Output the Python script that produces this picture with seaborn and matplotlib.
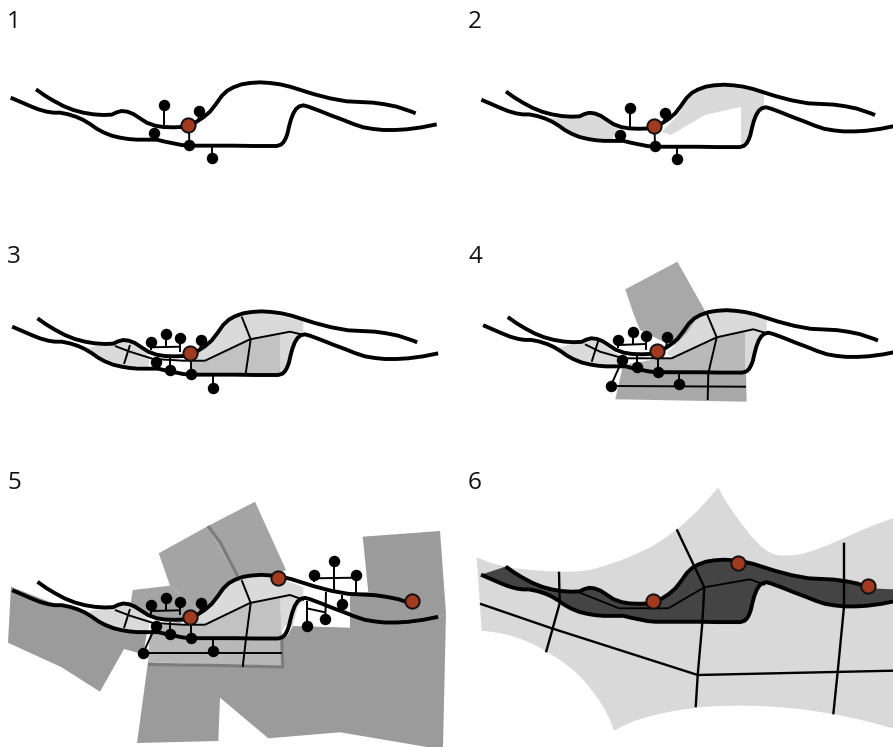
import matplotlib
matplotlib.use('Agg')
import matplotlib.pyplot as plt
import seaborn as sns

sns.set_theme(style='white')
plt.rcParams['font.family'] = ['Open Sans', 'DejaVu Sans']

lower_x = [32, 60, 90, 115, 140, 160, 180, 205, 230, 250, 270, 290, 310, 335, 360, 385, 410, 440, 470, 495, 520, 545, 568, 600, 640, 700, 760, 810, 830, 843, 851, 857, 862, 867, 873, 880, 888, 898, 910, 925, 960, 995, 1030, 1060, 1090, 1120, 1150, 1185, 1220, 1265, 1310]
lower_y = [113, 125, 138, 148, 155, 158, 158, 163, 171, 180, 192, 206, 217, 227, 233, 237, 239, 239, 239, 245, 250, 255, 257, 257, 257, 257, 258, 258, 258, 254, 246, 235, 222, 200, 178, 160, 147, 139, 136, 140, 153, 167, 180, 192, 202, 207, 210, 210, 208, 202, 193]
upper_x = [108, 135, 160, 190, 220, 250, 280, 310, 335, 350, 365, 382, 400, 420, 440, 465, 490, 520, 545, 570, 590, 610, 630, 648, 665, 682, 700, 725, 750, 780, 810, 840, 870, 905, 940, 990, 1040, 1080, 1120, 1155, 1190, 1220, 1235, 1247]
upper_y = [88, 107, 122, 138, 150, 158, 163, 165, 164, 157, 153, 155, 162, 175, 188, 197, 201, 202, 201, 195, 185, 172, 155, 132, 108, 92, 82, 73, 69, 67, 69, 73, 80, 91, 102, 115, 124, 126, 128, 133, 140, 150, 155, 160]
lower_x = [v / 3 for v in lower_x]
lower_y = [v / 3 + 60 for v in lower_y]
upper_x = [v / 3 for v in upper_x]
upper_y = [v / 3 + 60 for v in upper_y]

# panel 1 dots and stems
dots1_x = [164.3, 199.3, 153.7, 189.3, 211.7]
dots1_y = [105.3, 110.7, 132.7, 145.3, 158.3]
stems1 = [[(164.3, 105.3), (164.3, 125)], [(199.3, 110.7), (198.3, 120)], [(189.3, 145.3), (189, 127)], [(211.7, 158.3), (211.7, 146)]]
red1 = [(188.3, 124.7)]

# panel 2 light areas
light2_a_x = [550, 573.3, 585, 596.7, 606.7, 619.3, 615, 611.7, 593.3, 573.3, 560]
light2_a_y = [118.3, 117.3, 114.3, 115, 121, 128.3, 135, 139.3, 138.3, 133.3, 125]
light2_b_x = [661.7, 676.7, 688.3, 703.3, 723.3, 764, 764, 756.7, 751.7, 748.3, 743.3, 741, 741, 705, 670.7]
light2_b_y = [131.7, 116.7, 98.3, 88.3, 86, 92.3, 106.7, 111.7, 128.3, 141.7, 147.3, 147.3, 106.7, 115, 135]
dots2_x = [630.3, 665, 620.3, 655, 676.7]
dots2_y = [107.7, 112.7, 135, 146.3, 159]
stems2 = [[(630.3, 107.7), (630.3, 128)], [(665, 112.7), (664, 121)], [(655, 146.3), (654.5, 128)], [(676.7, 159), (676.7, 147)]]
red2 = [(654, 126)]

# panel 3, areas and network
light3_a_x = [86.7, 115, 128.3, 140, 150, 148.3, 123.3, 100]
light3_a_y = [348.3, 341.7, 341.7, 348.3, 356.7, 366.7, 366, 356.7]
light3_b_x = [196.7, 216.7, 230, 243.3, 266.7, 303.3, 303.3, 296.7, 290, 285, 280.7, 280, 250, 205, 196.7]
light3_b_y = [353.3, 336.7, 320, 313.3, 312.7, 321, 333.3, 340, 360, 373.3, 375.3, 333.3, 339.3, 360.7, 360.7]
mid3_x = [191.7, 205, 250, 280, 280.7, 191.7]
mid3_y = [360.7, 360.7, 339.3, 333.3, 375.3, 373.3]
net3 = [[(115, 346), (130, 351.7), (153.3, 359), (183.3, 360.7), (205, 360.7), (250, 339.3), (290, 331.7), (304, 335)],
        [(130, 345), (124, 364)],
        [(241.7, 316.7), (250.7, 339.3), (245.7, 373.3)]]
dots3_x = [151, 166, 180, 201.3, 155.7, 170, 191, 213.3]
dots3_y = [342.3, 334.3, 338, 339.7, 362.3, 370, 374.3, 387.7]
stems3 = [[(151, 347.3), (180, 346.7)], [(151, 342.3), (151, 350)], [(166, 334.3), (166, 346.7)], [(180, 338), (180, 351.7)],
          [(170, 370), (170, 358.3)], [(201.3, 339.7), (200, 350)], [(191, 374.3), (191, 360)], [(213.3, 387.7), (213.3, 375)]]
red3 = [(190.3, 353.3)]

# panel 4, areas and network
dark4_x = [625.3, 677.3, 708, 692, 675, 663.3, 640, 633.3]
dark4_y = [289.3, 261.7, 316, 330, 345, 341.7, 330, 313.3]
base4_x = [622.3, 615.3, 746.7, 745, 716.7, 673.3, 660, 660]
base4_y = [368.3, 399.3, 401.7, 331.7, 337.3, 358.3, 358.3, 366.7]
light4_a_x = [585, 598.3, 606.7, 620, 618.3, 593.3, 570, 556.7]
light4_a_y = [340, 340.7, 346.7, 356, 365, 365, 358.3, 348.3]
light4_b_x = [666.7, 686.7, 696.7, 708.3, 733.3, 766.7, 766.7, 758.3, 753.3, 748.3, 745, 745, 716.7, 673.3]
light4_b_y = [353.3, 333.3, 318.3, 311.7, 310, 318.3, 331.7, 338.3, 358.3, 370, 371.7, 331.7, 337.3, 358.3]
mid4_x = [660, 673.3, 716.7, 745, 745, 633.3, 623.3]
mid4_y = [358.3, 358.3, 337.3, 331.7, 372.7, 368.3, 365]
net4 = [[(585, 344.3), (600, 351.7), (623.3, 358.3), (671.7, 358.3), (716.7, 337.3), (753.3, 329.3), (766.7, 333.3)],
        [(598.3, 340.7), (591.7, 361.7)],
        [(706.7, 313.3), (716.7, 337.3), (708.3, 373.3), (707.7, 400)],
        [(611, 386), (746, 386.7)]]
dots4_x = [617.7, 632.7, 646.3, 667.3, 622.3, 636.7, 657.7, 610.7, 679]
dots4_y = [340, 332.3, 336, 337.3, 360, 367, 372, 386, 384.3]
stems4 = [[(617.7, 345), (646, 344)], [(617.7, 340), (617.7, 348.3)], [(632.7, 332.3), (632.7, 345)], [(646.3, 336), (646.3, 350)],
          [(636.7, 367), (636.7, 356)], [(667.3, 337.3), (666, 348.3)], [(657.7, 372), (657.7, 358)], [(679, 384.3), (679, 372.7)],
          [(610.7, 386), (622.3, 360)]]
red4 = [(656.7, 351.3)]

# panel 5, grey pieces then what is added to panel 3
grey5_left_x = [11, 53, 93, 120, 148, 143.3, 124, 100, 61.7, 8]
grey5_left_y = [586.7, 603.3, 615, 626.7, 626.7, 654.3, 649, 691.7, 667.3, 642.7]
grey5_back_x = [132.7, 170, 200, 180, 156.7, 130]
grey5_back_y = [590, 585.7, 612, 623.3, 620, 608.3]
grey5_rot_a_x = [158.7, 208, 241, 200, 170]
grey5_rot_a_y = [553.3, 526, 585, 612, 585.7]
grey5_rot_b_x = [208, 255, 286, 241]
grey5_rot_b_y = [526, 501.7, 570, 585]
grey5_rect_x = [150, 148, 282.7, 281.7, 200, 190, 160]
grey5_rect_y = [630, 662, 668, 610, 625, 625, 625]
grey5_base_x = [148, 137, 218.3, 220, 268.3, 340, 427, 443, 446, 438, 410, 377, 360, 350, 350, 292.7, 288, 281.7, 282.7, 220]
grey5_base_y = [662, 743, 741, 697.7, 738.3, 732.3, 747, 747, 613.3, 617.7, 624, 624, 620, 610, 627.7, 626, 635, 639, 668, 666]
grey5_top_x = [362.7, 440, 446, 438, 410, 377, 360, 350, 350, 368.3]
grey5_top_y = [536.7, 531, 613.3, 617.7, 624, 624, 620, 610, 593, 592]
seam5_a_x = [208, 220, 238]
seam5_a_y = [526, 542, 577]
seam5_b_x = [148, 220, 282.7, 281.7]
seam5_b_y = [664.5, 665.5, 667, 639]
light5_x = [196.7, 216.7, 230, 243.3, 270, 303.3, 303.3, 290, 285, 280.7, 280, 250, 205, 196.7]
light5_y = [617, 600.7, 583.7, 577, 575, 587, 598, 604, 624, 635, 597, 603, 624.7, 624.7]
mid5_x = [191.7, 205, 250, 280, 280.7, 191.7]
mid5_y = [624.7, 624.7, 603, 597, 639, 637]
light5_tail_x = [280, 290, 303.3, 298, 293, 281]
light5_tail_y = [597, 595, 601, 606, 626, 626]
net5 = [[(115, 610), (130, 615.7), (153.3, 623), (183.3, 624.7), (205, 624.7), (250, 603), (290, 595), (304, 600)],
        [(130, 609), (124, 628)],
        [(241.7, 580.3), (250.7, 603), (245.7, 641), (242.7, 667)],
        [(143.3, 652.7), (281.7, 652.7)]]
dots5_x = [151, 166, 180, 201.3, 155.7, 170, 191, 213.3, 143.3, 314.3, 334.3, 356, 342.3, 325, 306.7]
dots5_y = [605.3, 598, 601.7, 603.3, 626, 633.7, 638, 651, 652.7, 575.3, 561, 575.3, 603.7, 619.3, 626]
stems5 = [[(151, 611), (180, 610.3)], [(151, 605.3), (151, 614)], [(166, 598), (166, 610.3)], [(180, 601.7), (180, 615)],
          [(170, 633.7), (170, 622)], [(201.3, 603.3), (200, 614)], [(191, 638), (191, 624)], [(213.3, 651), (213.3, 639)],
          [(143.3, 652.7), (155.7, 626)],
          [(314.3, 578.3), (356, 577.7)], [(314.3, 575.3), (314.3, 582.3)], [(334.3, 561), (334.3, 590)], [(356, 575.3), (356, 594)],
          [(326, 591.7), (325.3, 619.3)], [(342.3, 603.7), (342.3, 595)], [(306.7, 626), (306.7, 601)], [(306.7, 608.3), (325, 612.3)]]
red5 = [(190.3, 617), (278.3, 577.7), (412.3, 601)]

# panel 6 background, from a 3x crop starting at (465, 480), and network
back6_x = [35, 70, 100, 150, 200, 250, 300, 340, 375, 420, 470, 515, 560, 600, 640, 670, 700, 730, 760, 778, 800, 830, 860, 885, 910, 930, 950, 980, 1010, 1050, 1090, 1135, 1180, 1230, 1284, 1284, 1240, 1190, 1125, 1060, 1005, 950, 885, 820, 760, 700, 645, 590, 550, 510, 478, 447, 435, 420, 402, 380, 357, 330, 300, 270, 235, 200, 165, 130, 90, 50]
back6_y = [232, 246, 255, 265, 270, 274, 275, 274, 270, 257, 240, 221, 200, 174, 145, 118, 90, 57, 22, 57, 90, 132, 170, 197, 215, 224, 227, 226, 222, 210, 195, 175, 155, 134, 115, 745, 733, 720, 706, 695, 687, 682, 678, 677, 678, 682, 690, 700, 710, 722, 736, 752, 720, 690, 660, 630, 602, 575, 551, 530, 509, 490, 476, 465, 457, 452]
back6_x = [v / 3 + 465 for v in back6_x]
back6_y = [v / 3 + 480 for v in back6_y]
net6 = [[(480, 603.7), (551.7, 628.3), (697.7, 675), (893, 670.7)],
        [(559, 571.7), (559.7, 603.3), (546, 652.3)],
        [(676.7, 529.3), (704.3, 587.3), (702.3, 623.3), (697.7, 675), (695.7, 707.3)],
        [(844, 542.7), (844, 606.7), (837.7, 671.7), (833.3, 714.3)]]
net6_dark = [[(580, 592.7), (619, 608.3), (668.3, 608.3), (704.3, 587.3), (750, 579.3), (765, 585)]]
red6 = [(653, 601.3), (738.3, 563), (867.7, 586)]

panel_labels = ['1', '2', '3', '4', '5', '6']
label_x = [14, 475, 14, 475, 14, 475]
label_y = [22, 22, 257, 257, 483, 483]

LIGHT = '#dadada'
MID = '#c2c2c2'
DARK4 = '#a8a8a8'
GREY5 = '#9b9b9b'
GREY5B = '#a4a4a4'
SEAM = '#7c7c7c'
REDDOT = '#a23a20'


def area(ax, xs, ys, color, z=1):
    ax.fill(xs, ys, color=color, lw=0, zorder=z)


def line(ax, xs, ys, lw, color='black', z=3):
    sns.lineplot(x=xs, y=ys, sort=False, estimator=None, ax=ax, color=color, linewidth=lw,
                 solid_capstyle='butt', solid_joinstyle='round', zorder=z, legend=False)


def thin(ax, paths, lw=1.4):
    for p in paths:
        line(ax, [q[0] for q in p], [q[1] for q in p], lw)


def curves(ax, sx, sy, dx, dy, cut_upper=False):
    ux = [x * sx + dx for x in upper_x]
    uy = [y * sy + dy for y in upper_y]
    if cut_upper:
        ux, uy = ux[:-1], uy[:-1]
    line(ax, ux, uy, 2.8, z=4)
    line(ax, [x * sx + dx for x in lower_x], [y * sy + dy for y in lower_y], 2.8, z=4)


def dots(ax, xs, ys, reds):
    sns.scatterplot(x=xs, y=ys, ax=ax, color='black', s=68, linewidth=0, zorder=5, legend=False)
    sns.scatterplot(x=[r[0] for r in reds], y=[r[1] for r in reds], ax=ax, color=REDDOT, s=105,
                    edgecolor='#111111', linewidth=1.4, zorder=6, legend=False)


fig = plt.figure(figsize=(8.93, 7.47), dpi=100)
ax = fig.add_axes([0, 0, 1, 1])

# 1
curves(ax, 1, 1, 0, 0)
thin(ax, stems1)
dots(ax, dots1_x, dots1_y, red1)

# 2
area(ax, light2_a_x, light2_a_y, LIGHT)
area(ax, light2_b_x, light2_b_y, LIGHT)
curves(ax, 0.972, 0.98, 471, 4)
thin(ax, stems2)
dots(ax, dots2_x, dots2_y, red2)

# 3
area(ax, light3_a_x, light3_a_y, LIGHT)
area(ax, light3_b_x, light3_b_y, LIGHT)
area(ax, mid3_x, mid3_y, MID)
curves(ax, 1, 1, 1.5, 229)
thin(ax, net3)
thin(ax, stems3)
dots(ax, dots3_x, dots3_y, red3)

# 4
area(ax, dark4_x, dark4_y, DARK4)
area(ax, base4_x, base4_y, DARK4)
area(ax, light4_a_x, light4_a_y, LIGHT)
area(ax, light4_b_x, light4_b_y, LIGHT)
area(ax, mid4_x, mid4_y, '#b9b9b9')
curves(ax, 0.975, 0.98, 472.7, 229.5)
thin(ax, net4)
thin(ax, stems4)
dots(ax, dots4_x, dots4_y, red4)

# 5
area(ax, grey5_left_x, grey5_left_y, GREY5)
area(ax, grey5_back_x, grey5_back_y, GREY5B)
area(ax, grey5_rot_a_x, grey5_rot_a_y, GREY5B)
area(ax, grey5_rot_b_x, grey5_rot_b_y, GREY5B)
area(ax, grey5_rect_x, grey5_rect_y, '#b8b8b8')
area(ax, grey5_base_x, grey5_base_y, GREY5)
area(ax, grey5_top_x, grey5_top_y, GREY5)
line(ax, seam5_a_x, seam5_a_y, 2.2, color=SEAM, z=1.5)
line(ax, seam5_b_x, seam5_b_y, 2.2, color=SEAM, z=1.5)
area(ax, [x for x in light3_a_x], [y + 263.7 for y in light3_a_y], LIGHT, z=2)
area(ax, light5_x, light5_y, LIGHT, z=2)
area(ax, light5_tail_x, light5_tail_y, LIGHT, z=2)
area(ax, mid5_x, mid5_y, MID, z=2.1)
curves(ax, 1, 1, 1.5, 492.5, cut_upper=True)
thin(ax, net5)
thin(ax, stems5)
dots(ax, dots5_x, dots5_y, red5)

# 6
area(ax, back6_x, back6_y, '#d9d9d9')
# dark band between the two curves, upper curve stops at the red dot then runs flat to the edge
band_x = [x * 0.975 + 470.6 for x in upper_x[:-1]] + [893] + [x * 0.975 + 470.6 for x in lower_x[::-1]]
band_y = [y * 0.98 + 479 for y in upper_y[:-1]] + [589.3] + [y * 0.98 + 479 for y in lower_y[::-1]]
area(ax, band_x, band_y, '#444444', z=2)
curves(ax, 0.975, 0.98, 470.6, 479, cut_upper=True)
thin(ax, net6, lw=1.7)
thin(ax, net6_dark, lw=1.3)
sns.scatterplot(x=[r[0] for r in red6], y=[r[1] for r in red6], ax=ax, color=REDDOT, s=105,
                edgecolor='#111111', linewidth=1.4, zorder=6, legend=False)

for t, x, y in zip(panel_labels, label_x, label_y):
    ax.text(x, y, t, fontsize=17.5, color='#111111', ha='center', va='center')

ax.set_xlim(0, 893)
ax.set_ylim(747, 0)
ax.axis('off')
fig.savefig('out.png', dpi=100)
